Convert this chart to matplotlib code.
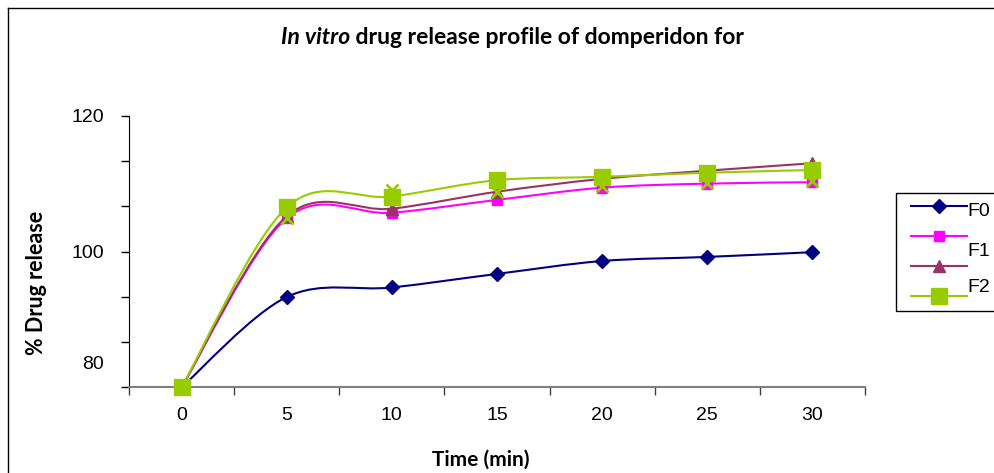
import numpy as np
import matplotlib
matplotlib.use("Agg")
from matplotlib import pyplot as plt
from matplotlib.path import Path
from matplotlib.patches import PathPatch, Rectangle
from matplotlib.lines import Line2D
from matplotlib.transforms import ScaledTranslation

plt.rcParams['font.family'] = ['Liberation Sans', 'DejaVu Sans']

# Release data (% drug release vs time)
times = [0, 5, 10, 15, 20, 25, 30]
f0 = [80, 93.3, 94.7, 96.7, 98.6, 99.2, 99.9]
f1 = [80, 104.9, 105.7, 107.6, 109.4, 110.0, 110.2]
f2 = [80, 105.2, 106.3, 108.8, 110.7, 111.9, 113.0]
f3 = [80, 106.5, 108.1, 110.5, 111.0, 111.6, 112.0]
fx = [80, 104.9, 109.1, 108.8, 109.6, 110.1, 110.4]

legend_names = ["F0", "F1", "F2"]
y_labels = {80: "80", 100: "100", 120: "120"}


def smooth_path(xs, ys):
    # Catmull-Rom style cubic Bezier through the points (like Excel's smoothed line)
    pts = np.column_stack([xs, ys]).astype(float)
    ext = np.vstack([pts[0], pts, pts[-1]])
    verts = [pts[0]]
    codes = [Path.MOVETO]
    for i in range(len(pts) - 1):
        p0, p1, p2, p3 = ext[i], ext[i + 1], ext[i + 2], ext[i + 3]
        verts += [p1 + (p2 - p0) / 6, p2 - (p3 - p1) / 6, p2]
        codes += [Path.CURVE4] * 3
    return Path(verts, codes)


fig = plt.figure(figsize=(9.95, 4.73), dpi=100)
ax = fig.add_axes([129 / 995, 1 - 387.3 / 473, 736 / 995, 271.6 / 473])

x = np.arange(len(times))
series = [
    (f0, "#000080", "D", 7, 1.5),
    (f1, "#FF00FF", "s", 6.5, 1.5),
    (f2, "#993366", "^", 8.5, 1.5),
    (f3, "#99CC00", "s", 12, 1.5),
]

handles = []
for i, (vals, col, mk, ms, lw) in enumerate(series):
    ax.add_patch(PathPatch(smooth_path(x, vals), fill=False, edgecolor=col,
                           lw=lw, zorder=2 + i, capstyle='round'))
    if i == 3:
        # cross markers sitting under the F2 squares
        ax.plot(x, fx, linestyle='none', marker='x', ms=9, mew=2,
                color="#99CC00", zorder=5.5, clip_on=False)
    ax.plot(x, vals, linestyle='none', marker=mk, ms=ms, color=col,
            mec=col, zorder=2.5 + i, clip_on=False)
    handles.append(Line2D([], [], color=col, lw=lw, marker=mk, ms=ms, mec=col))

ax.set_xlim(-0.5, len(times) - 0.5)
ax.set_ylim(80, 120)

# category axis: ticks between categories, labels centred
ax.set_xticks(np.arange(len(times) + 1) - 0.5)
ax.set_xticklabels([])
ax.set_xticks(x, minor=True)
ax.set_xticklabels([str(t) for t in times], minor=True, fontsize=14)
ax.tick_params(axis='x', which='major', direction='out', length=6, width=1, color='#404040')
ax.tick_params(axis='x', which='minor', length=0, pad=14)

yt = np.linspace(80, 120, 7)
ax.set_yticks(yt)
ax.set_yticklabels([y_labels.get(int(round(v)), "") if abs(v - round(v)) < 1e-6 else "" for v in yt],
                   fontsize=14)
ax.tick_params(axis='y', direction='out', length=6, width=1, pad=12)
for lab in ax.get_yticklabels():
    if lab.get_text() == "80":
        lab.set_transform(lab.get_transform() + ScaledTranslation(0, 0.25, fig.dpi_scale_trans))

for side in ("top", "right"):
    ax.spines[side].set_visible(False)
ax.spines["left"].set_color("black")
ax.spines["bottom"].set_color("#808080")
ax.spines["bottom"].set_linewidth(1.5)

# title with italic "In vitro"
t1 = fig.text(281 / 995, 1 - 37 / 473, "In vitro", fontsize=16.5, fontweight='bold',
              fontstyle='italic', family=['Lato', 'DejaVu Sans'], va='center', ha='left')
ax.annotate(" drug release profile of domperidon for", xy=(1, 0.5), xycoords=t1,
            va='center', ha='left', fontsize=16.5, fontweight='bold',
            family=['Lato', 'DejaVu Sans'], annotation_clip=False)

fig.text(37 / 995, 1 - 283 / 473, "% Drug release", rotation=90, fontsize=15.5,
         fontweight='bold', family=['Lato', 'DejaVu Sans'], ha='center', va='center')
fig.text(481 / 995, 1 - 460 / 473, "Time (min)", fontsize=15, fontweight='bold',
         family=['Lato', 'DejaVu Sans'], ha='center', va='center')

# outer chart border
fig.add_artist(Line2D([8 / 995, 8 / 995], [0, 1 - 8 / 473], transform=fig.transFigure,
                      color='black', lw=1))
fig.add_artist(Line2D([8 / 995, 1], [1 - 8 / 473, 1 - 8 / 473], transform=fig.transFigure,
                      color='black', lw=1))

# legend box
fig.add_artist(Rectangle((896 / 995, 1 - 310.7 / 473), 0.2, 117.4 / 473,
                         transform=fig.transFigure, fill=False, edgecolor='black', lw=1))
fig.legend(handles, [" "] * 4, loc='upper left',
           bbox_to_anchor=(911 / 995, 1 - 200 / 473), frameon=False, fontsize=12.5,
           borderpad=0, borderaxespad=0, handlelength=3.2, labelspacing=0.86,
           handletextpad=0)
for name, yp in zip(legend_names, [212, 251, 287]):
    fig.text(967 / 995, 1 - yp / 473, name, fontsize=14, va='center', ha='left')

fig.savefig("out.png", dpi=100)
